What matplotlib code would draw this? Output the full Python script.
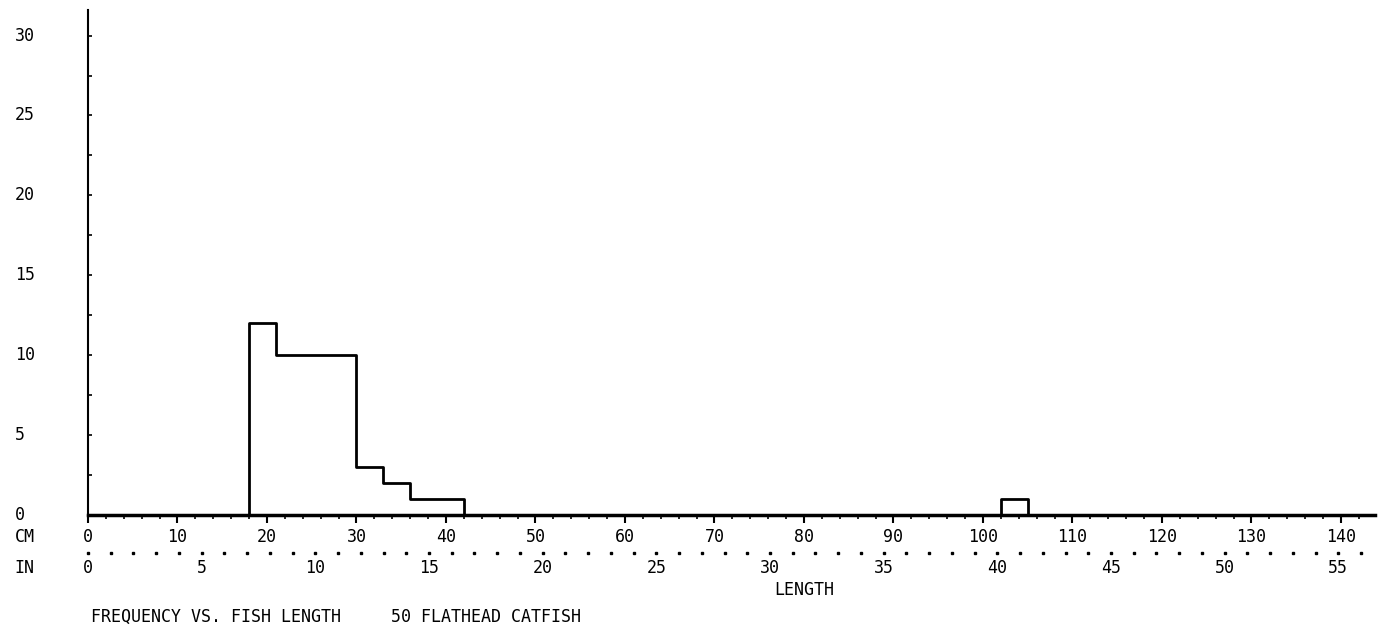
import matplotlib
matplotlib.use("Agg")
import matplotlib.pyplot as plt
import numpy as np

bin_edges = [18, 21, 24, 27, 30, 33, 36, 39, 42, 102, 105]
counts = [12, 10, 10, 10, 3, 2, 1, 1, 0, 1]
cm_labels = list(range(0, 141, 10))
in_labels = list(range(0, 56, 5))
y_labels = [0, 5, 10, 15, 20, 25, 30]

F = "DejaVu Sans Mono"
FS = 12
fig = plt.figure(figsize=(13.85, 6.33), dpi=100)
ax = fig.add_axes([88/1385, 1-515/633, (1375-88)/1385, (515-10)/633])
ax.set_xlim(0, 143.8); ax.set_ylim(0, 31.6)
for s in ["top", "right"]:
    ax.spines[s].set_visible(False)
ax.spines["left"].set_linewidth(1.5); ax.spines["bottom"].set_linewidth(2.5)

xs = [bin_edges[0]]; ys = [0]
for i, c in enumerate(counts):
    xs += [bin_edges[i], bin_edges[i+1]]; ys += [c, c]
xs.append(bin_edges[-1]); ys.append(0)
ax.plot(xs, ys, color="black", lw=2)

ax.set_xticks(np.arange(0, 141, 10))
ax.set_xticks(np.arange(0, 144, 2), minor=True)
ax.tick_params(axis="x", which="major", direction="out", length=6, width=1.5, labelbottom=False)
ax.tick_params(axis="x", which="minor", direction="out", length=3, width=1.2)
ax.set_yticks(y_labels)
ax.set_yticks(np.arange(0, 31, 2.5), minor=True)
ax.tick_params(axis="y", which="both", direction="in", length=3, width=1.2, labelleft=False)

tr = ax.get_xaxis_transform()
H = 505
def yy(p):
    return -(p - 515) / H
for v in cm_labels:
    ax.text(v, yy(537), str(v), transform=tr, ha="center", va="center", family=F, fontsize=FS)
for v in in_labels:
    ax.text(v*2.54, yy(568), str(v), transform=tr, ha="center", va="center", family=F, fontsize=FS)
for i in range(0, 57):
    ax.plot(i*2.54, yy(553), marker="s", ms=1.8, color="black", transform=tr, clip_on=False)
for v in y_labels:
    ax.text(-8.2, v, str(v), ha="left", va="center", family=F, fontsize=FS)
ax.text(-8.2, yy(537), "CM", transform=tr, ha="left", va="center", family=F, fontsize=FS)
ax.text(-8.2, yy(568), "IN", transform=tr, ha="left", va="center", family=F, fontsize=FS)
ax.text(80, yy(590), "LENGTH", transform=tr, ha="center", va="center", family=F, fontsize=FS)
ax.text(0.3, yy(617), "FREQUENCY VS. FISH LENGTH     50 FLATHEAD CATFISH", transform=tr,
        ha="left", va="center", family=F, fontsize=FS)
fig.savefig("out.png", dpi=100)
